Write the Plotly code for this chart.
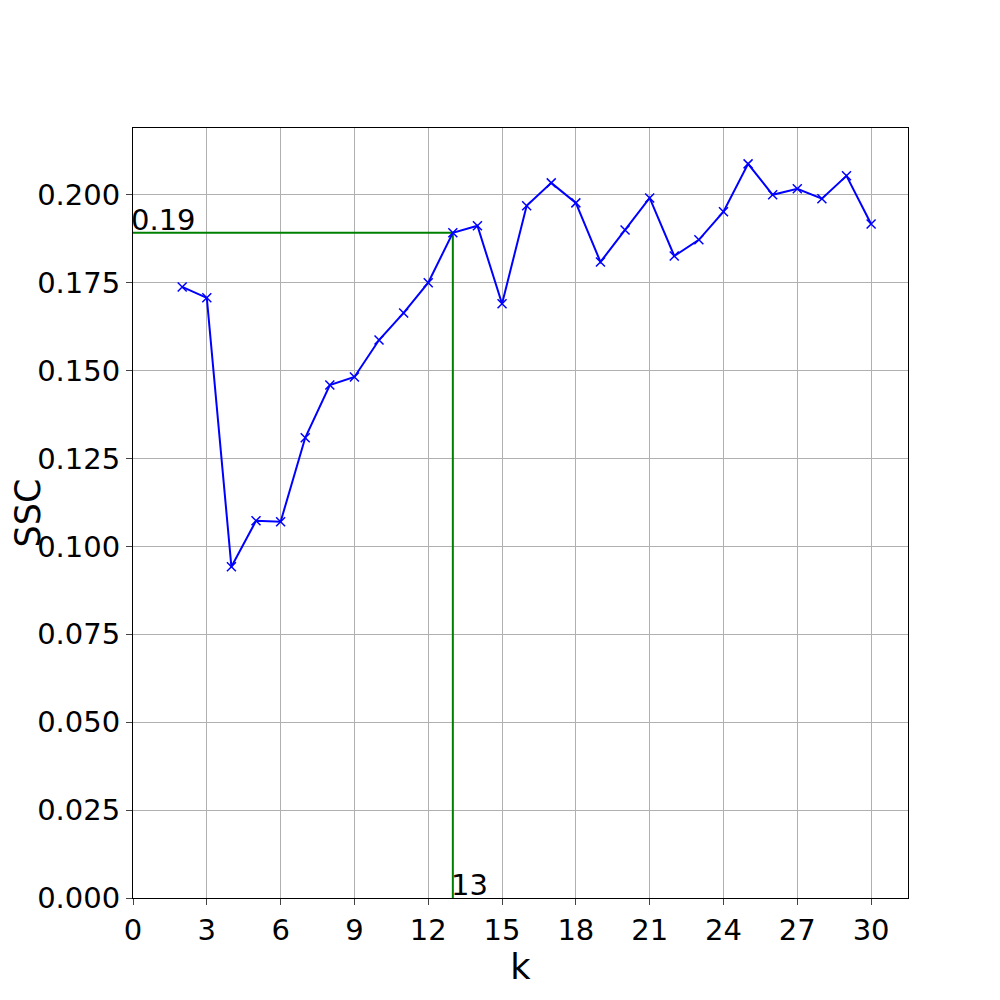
import plotly.graph_objects as go

k = list(range(2, 31))
ssc = [0.1738, 0.1707, 0.0942, 0.1073, 0.1070, 0.1309, 0.1459, 0.1482, 0.1587, 0.1664,
       0.1750, 0.1892, 0.1912, 0.1690, 0.1969, 0.2034, 0.1977, 0.1809, 0.1900, 0.1991,
       0.1826, 0.1872, 0.1952, 0.2088, 0.2000, 0.2017, 0.1989, 0.2054, 0.1917]
best_k = 13
best_val = 0.1892
xticks = list(range(0, 31, 3))
yticks = [i * 0.025 for i in range(9)]

fig = go.Figure()
fig.add_trace(go.Scatter(x=[0, best_k], y=[best_val, best_val], mode="lines",
                         line=dict(color="green", width=2), showlegend=False))
fig.add_trace(go.Scatter(x=[best_k, best_k], y=[0, best_val], mode="lines",
                         line=dict(color="green", width=2), showlegend=False))
fig.add_trace(go.Scatter(x=k, y=ssc, mode="lines+markers",
                         line=dict(color="blue", width=2),
                         marker=dict(symbol="x-thin", size=9, line=dict(color="blue", width=1.5)),
                         showlegend=False))
fig.add_annotation(x=0, y=best_val, text="0.19", showarrow=False, xanchor="left", yanchor="bottom",
                   xshift=-4, yshift=-6, font=dict(size=29, color="black"))
fig.add_annotation(x=best_k, y=0, text="13", showarrow=False, xanchor="left", yanchor="bottom",
                   xshift=-4, yshift=-6, font=dict(size=29, color="black"))

fig.update_layout(
    width=1000, height=1000, plot_bgcolor="white", paper_bgcolor="white",
    margin=dict(l=125, r=100, t=120, b=110, autoexpand=False),
    font=dict(family="DejaVu Sans", size=29, color="black"),
    xaxis=dict(range=[0, 31.5], tickvals=xticks, showgrid=True, gridcolor="#b0b0b0",
               showline=True, linecolor="black", mirror=True, ticks="outside", ticklen=6,
               zeroline=False, automargin=False, title=dict(text="k", standoff=2)),
    yaxis=dict(range=[0, 0.219], tickvals=yticks, tickformat=".3f", showgrid=True,
               gridcolor="#b0b0b0", showline=True, linecolor="black", mirror=True,
               ticks="outside", ticklen=6, zeroline=False, automargin=False,
               title=dict(text="SSC", standoff=0)),
)
fig.write_html("out.html")
